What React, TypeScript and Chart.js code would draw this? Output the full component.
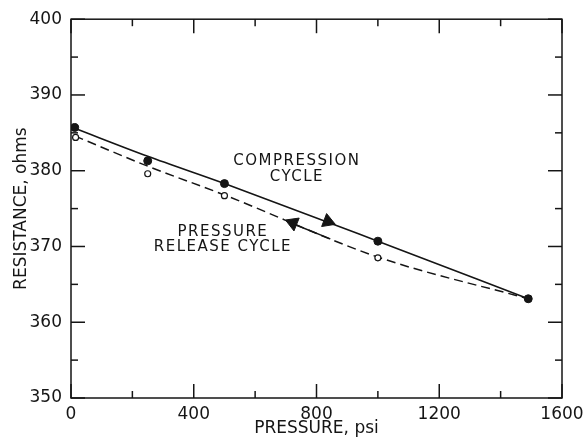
import React, { useEffect, useRef } from "react";
import { Chart, registerables } from "chart.js";

Chart.register(...registerables);

// Measured points (psi, ohms)
const compressionPressure = [12, 250, 500, 1000, 1490];
const compressionResistance = [385.7, 381.3, 378.3, 370.7, 363.1];
const releasePressure = [15, 250, 500, 1000, 1490];
const releaseResistance = [384.4, 379.6, 376.7, 368.5, 363.1];

// Drawn curves
const curvePressure = [12, 250, 500, 1000, 1490];
const compressionCurve = [385.6, 381.9, 378.3, 370.7, 363.1];
const releaseCurve = [384.6, 380.6, 376.8, 368.6, 363.1];

// Direction arrows
const arrowPressure = [837, 723];
const arrowResistance = [373.3, 373.1];
const arrowRotation = [111, 292];
const shaftPressure = [723, 845];
const shaftResistance = [373.0, 371.0];

// Axis ticks
const xTickValues = [0, 200, 400, 600, 800, 1000, 1200, 1400, 1600];
const yTickValues = [350, 355, 360, 365, 370, 375, 380, 385, 390, 395, 400];

// Annotations (data coordinates)
const labelTexts = ["COMPRESSION", "CYCLE", "PRESSURE", "RELEASE CYCLE"];
const labelPressure = [736, 736, 495, 495];
const labelResistance = [381.3, 379.2, 371.9, 369.9];

const pts = (xs: number[], ys: number[]) => xs.map((x, i) => ({ x, y: ys[i] }));

const INK = "#151515";
const FONT = "'DejaVu Sans', 'Liberation Sans', sans-serif";

const framePlugin = {
  id: "frameTicks",
  afterDraw(chart: any) {
    const { ctx, chartArea: a, scales } = chart;
    const x = scales.x;
    const y = scales.y;
    ctx.save();
    ctx.strokeStyle = INK;
    ctx.lineWidth = 1.5;
    ctx.strokeRect(a.left, a.top, a.right - a.left, a.bottom - a.top);
    const seg = (x1: number, y1: number, x2: number, y2: number) => {
      ctx.beginPath();
      ctx.moveTo(x1, y1);
      ctx.lineTo(x2, y2);
      ctx.stroke();
    };
    xTickValues.forEach((v) => {
      const px = x.getPixelForValue(v);
      const len = v % 400 === 0 ? 14 : 7;
      seg(px, a.bottom, px, a.bottom - len);
      seg(px, a.top, px, a.top + len);
    });
    yTickValues.forEach((v) => {
      const py = y.getPixelForValue(v);
      const len = v % 10 === 0 ? 14 : 7;
      seg(a.left, py, a.left + len, py);
      seg(a.right, py, a.right - len, py);
    });
    ctx.fillStyle = INK;
    ctx.font = `15px ${FONT}`;
    ctx.textAlign = "center";
    ctx.textBaseline = "middle";
    try {
      (ctx as any).letterSpacing = "1.5px";
    } catch (e) {}
    labelTexts.forEach((t, i) => {
      ctx.fillText(t, x.getPixelForValue(labelPressure[i]), y.getPixelForValue(labelResistance[i]));
    });
    ctx.restore();
  },
};

export default function App() {
  const ref = useRef<HTMLCanvasElement | null>(null);

  useEffect(() => {
    if (!ref.current) return;
    const chart = new Chart(ref.current, {
      type: "scatter",
      data: {
        datasets: [
          {
            label: "Compression points",
            data: pts(compressionPressure, compressionResistance),
            pointStyle: "circle",
            pointRadius: 4,
            pointBackgroundColor: INK,
            pointBorderColor: INK,
            pointBorderWidth: 1,
            showLine: false,
            order: 0,
          },
          {
            label: "Arrows",
            data: pts(arrowPressure, arrowResistance),
            pointStyle: "triangle",
            pointRadius: 8,
            pointRotation: arrowRotation,
            pointBackgroundColor: INK,
            pointBorderColor: INK,
            pointBorderWidth: 1,
            showLine: false,
            order: 1,
          },
          {
            label: "Release points",
            data: pts(releasePressure, releaseResistance),
            pointStyle: "circle",
            pointRadius: 3,
            pointBackgroundColor: "#ffffff",
            pointBorderColor: INK,
            pointBorderWidth: 1.2,
            showLine: false,
            order: 2,
          },
          {
            label: "Compression cycle",
            data: pts(curvePressure, compressionCurve),
            showLine: true,
            borderColor: INK,
            borderWidth: 1.6,
            pointRadius: 0,
            tension: 0.3,
            cubicInterpolationMode: "monotone",
            order: 3,
          },
          {
            label: "Pressure release cycle",
            data: pts(curvePressure, releaseCurve),
            showLine: true,
            borderColor: INK,
            borderWidth: 1.5,
            borderDash: [9, 5],
            pointRadius: 0,
            tension: 0.4,
            cubicInterpolationMode: "monotone",
            order: 4,
          },
          {
            label: "Arrow shaft",
            data: pts(shaftPressure, shaftResistance),
            showLine: true,
            borderColor: INK,
            borderWidth: 1.5,
            pointRadius: 0,
            order: 5,
          },
        ],
      },
      options: {
        animation: false,
        responsive: false,
        layout: { padding: { top: 17, right: 24, left: 0, bottom: 0 } },
        plugins: { legend: { display: false }, tooltip: { enabled: false } },
        scales: {
          x: {
            type: "linear",
            min: 0,
            max: 1600,
            grid: { display: false, drawTicks: false },
            border: { display: false },
            ticks: {
              stepSize: 400,
              color: INK,
              padding: 6,
              maxRotation: 0,
              font: { family: FONT, size: 17 },
              callback: (v: any) => String(v),
            },
            title: {
              display: true,
              text: "PRESSURE, psi",
              color: INK,
              font: { family: FONT, size: 17 },
              padding: { top: 0, bottom: 1 },
            },
            afterFit(scale: any) {
              scale.height = 42;
              scale.paddingLeft = 0;
              scale.paddingRight = 0;
            },
          },
          y: {
            type: "linear",
            min: 350,
            max: 400,
            grid: { display: false, drawTicks: false },
            border: { display: false },
            ticks: {
              stepSize: 10,
              color: INK,
              padding: 9,
              font: { family: FONT, size: 17 },
              callback: (v: any) => String(v),
            },
            title: {
              display: true,
              text: "RESISTANCE, ohms",
              color: INK,
              font: { family: FONT, size: 17 },
              padding: { top: 11, bottom: 0 },
            },
            afterFit(scale: any) {
              scale.width = 71;
            },
          },
        },
      },
      plugins: [framePlugin],
    });
    return () => chart.destroy();
  }, []);

  return (
    <div style={{ position: "absolute", left: 0, top: 0, width: 586, height: 440, background: "#fff" }}>
      <canvas ref={ref} width={586} height={440} />
    </div>
  );
}
